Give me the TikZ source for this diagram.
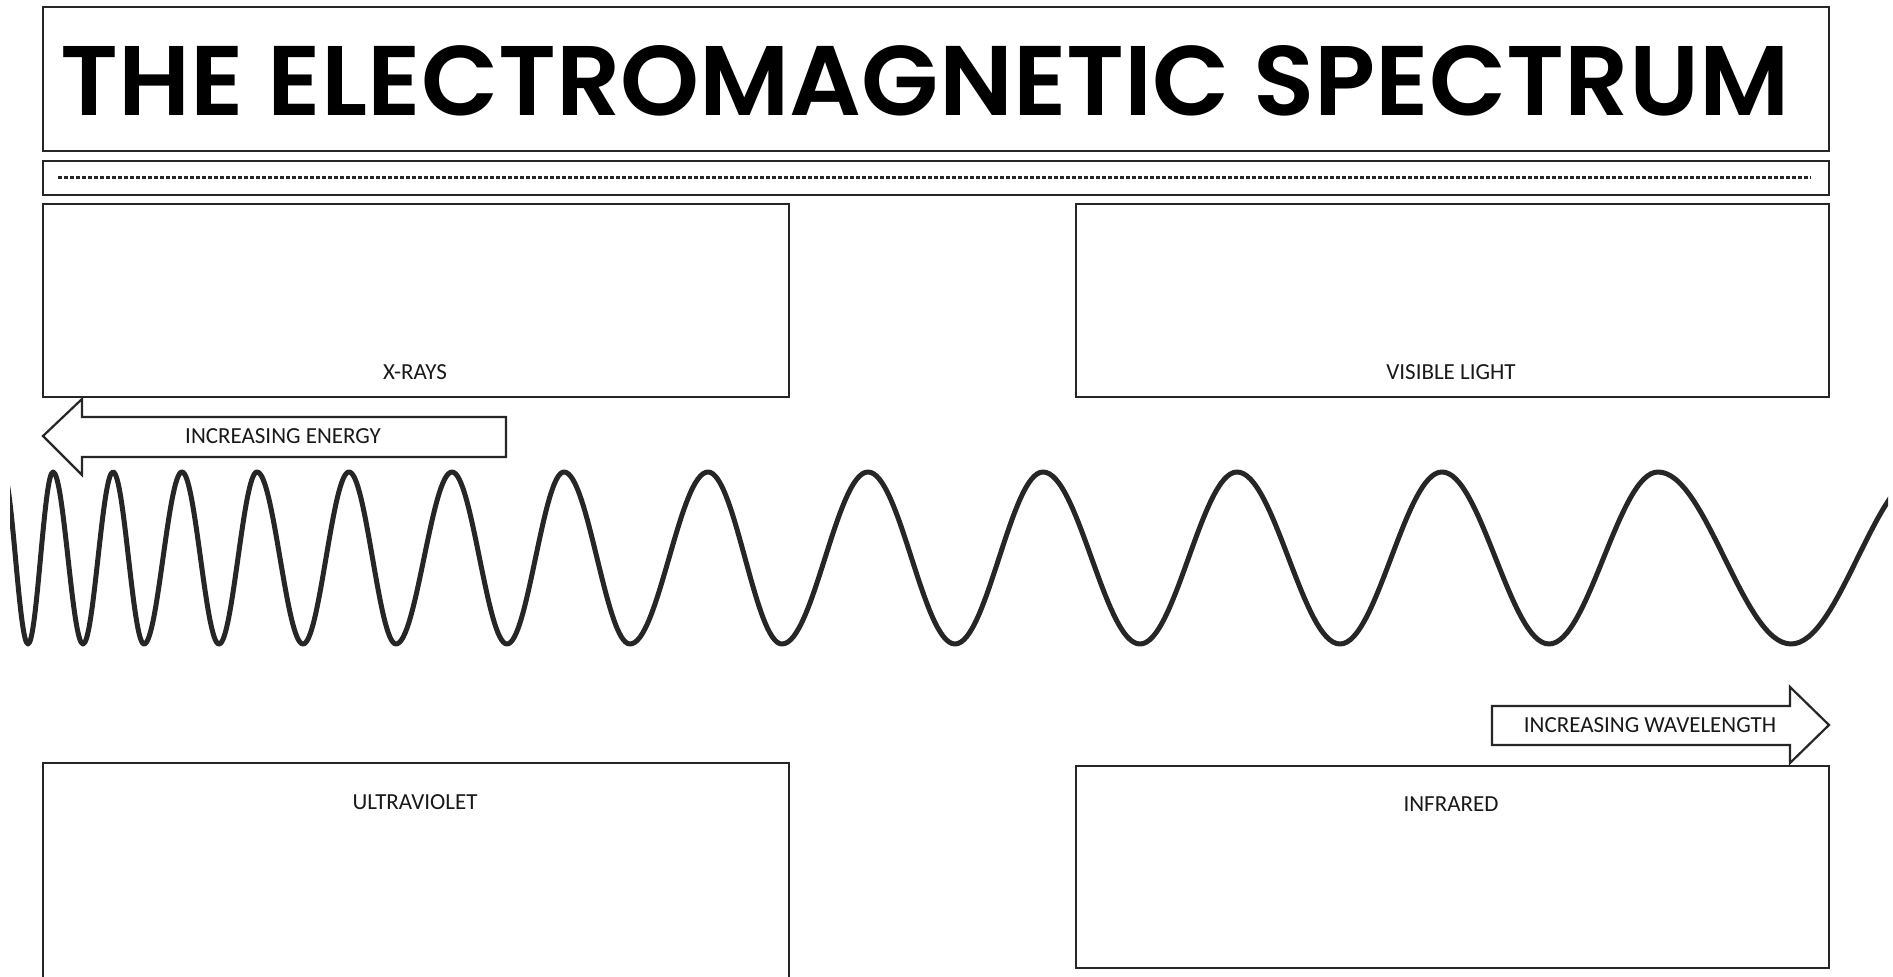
\documentclass[tikz,border=0pt]{standalone}
\usepackage{fontspec}
\usepackage{graphicx}
\newfontfamily\titlefont{Poppins}[BoldFont={* SemiBold}]
\newfontfamily\labelfont{Carlito}
\begin{document}
\begin{tikzpicture}[x=0.5pt,y=-0.5pt,
  box/.style={draw=black!85, line width=1.1pt},
  lbl/.style={font=\labelfont\fontsize{11.5}{12}\selectfont, inner sep=0pt, text=black!90},
  arrowshape/.style={draw=black!85, line width=1.1pt, fill=white},
  wave/.style={draw=black!85, line width=2.5pt, line cap=round, line join=round}]
\useasboundingbox (0,0) rectangle (1893,977);
\fill[white] (0,0) rectangle (1893,977);
% title
\draw[box] (43,7) rectangle (1829,151);
\node[anchor=base, inner sep=0pt] (title) at (925,116)
  {\resizebox{864.5pt}{35pt}{\titlefont\bfseries THE ELECTROMAGNETIC SPECTRUM}};
% dotted strip
\draw[box] (43,161) rectangle (1829,195);
\draw[black!85, line width=1.5pt, dash pattern=on 2pt off 1pt] (58,178) -- (1811,178);
% upper boxes
\draw[box] (43,204) rectangle (789,397);
\node[lbl] (xrays) at (415,372) {X-RAYS};
\draw[box] (1076,204) rectangle (1829,397);
\node[lbl] (visible) at (1451,372) {VISIBLE LIGHT};
% lower boxes
\draw[box] (43,977) -- (43,763) -- (789,763) -- (789,977);
\node[lbl] (uv) at (415,802) {ULTRAVIOLET};
\draw[box] (1076,766) rectangle (1829,968);
\node[lbl] (ir) at (1451,804) {INFRARED};
% arrows
\draw[arrowshape] (43,436) -- (82,399) -- (82,417) -- (506,417) -- (506,457) -- (82,457) -- (82,475) -- cycle;
\node[lbl] (energy) at (283,436) {INCREASING ENERGY};
\draw[arrowshape] (1492,706) -- (1790,706) -- (1790,687) -- (1829,725) -- (1790,763) -- (1790,745) -- (1492,745) -- cycle;
\node[lbl] (wavelength) at (1650,725) {INCREASING WAVELENGTH};
% wave
\begin{scope}
\clip (10,440) rectangle (1888,690);
\draw[wave] (3,472) cos (15.5,558) sin (28,644) cos (40.5,558) sin (53,472)
 cos (68,558) sin (83,644) cos (98,558) sin (113,472)
 cos (128.5,558) sin (144,644) cos (163,558) sin (182,472)
 cos (200.5,558) sin (219,644) cos (238,558) sin (257,472)
 cos (280,558) sin (303,644) cos (326,558) sin (349,472)
 cos (372.5,558) sin (396,644) cos (424,558) sin (452,472)
 cos (479.5,558) sin (507,644) cos (535.5,558) sin (564,472)
 cos (597,558) sin (630,644) cos (669,558) sin (708,472)
 cos (745,558) sin (782,644) cos (825,558) sin (868,472)
 cos (911.5,558) sin (955,644) cos (999,558) sin (1043,472)
 cos (1091.5,558) sin (1140,644) cos (1188.5,558) sin (1237,472)
 cos (1288.5,558) sin (1340,644) cos (1391,558) sin (1442,472)
 cos (1495.5,558) sin (1549,644) cos (1603.5,558) sin (1658,472)
 cos (1724.5,558) sin (1791,644) cos (1857.5,558) sin (1924,472);
\end{scope}
\end{tikzpicture}
\end{document}
